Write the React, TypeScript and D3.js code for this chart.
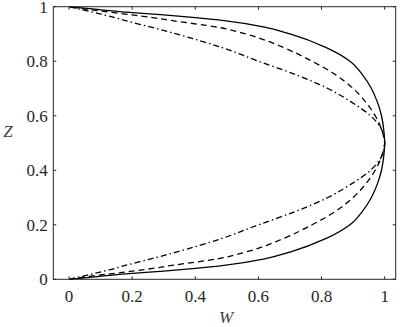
import React from "react";
import * as d3 from "d3";

// Z positions (shared by all three profiles)
const zValues = [0, 0.01, 0.02, 0.03, 0.04, 0.05, 0.075, 0.1, 0.15, 0.2, 0.25, 0.3, 0.35, 0.4, 0.45, 0.5,
  0.55, 0.6, 0.65, 0.7, 0.75, 0.8, 0.85, 0.9, 0.925, 0.95, 0.96, 0.97, 0.98, 0.99, 1];

// W for each line style
const wSolid = [0, 0.09, 0.18, 0.3, 0.4, 0.485, 0.62, 0.7, 0.815, 0.89, 0.93, 0.958, 0.977, 0.99, 0.997, 1,
  0.997, 0.99, 0.977, 0.958, 0.93, 0.89, 0.815, 0.7, 0.62, 0.485, 0.4, 0.3, 0.18, 0.09, 0];
const wDashed = [0, 0.06, 0.13, 0.2, 0.265, 0.32, 0.47, 0.56, 0.68, 0.77, 0.845, 0.9, 0.94, 0.97, 0.99, 1,
  0.99, 0.97, 0.94, 0.9, 0.845, 0.77, 0.68, 0.56, 0.47, 0.32, 0.265, 0.2, 0.13, 0.06, 0];
const wDashDot = [0, 0.038, 0.075, 0.11, 0.145, 0.175, 0.26, 0.34, 0.485, 0.6, 0.72, 0.82, 0.895, 0.955, 0.99, 1,
  0.99, 0.955, 0.895, 0.82, 0.72, 0.6, 0.485, 0.34, 0.26, 0.175, 0.145, 0.11, 0.075, 0.038, 0];

const xTicks = [0, 0.2, 0.4, 0.6, 0.8, 1];
const yTicks = [0, 0.2, 0.4, 0.6, 0.8, 1];

const series = [
  { w: wSolid, dash: undefined },
  { w: wDashed, dash: "6,4" },
  { w: wDashDot, dash: "6,3,1.5,3" },
];

const INK = "#262626";

const left = 53.3, right = 395.7, top = 6.7, bottom = 279.3;
const x = d3.scaleLinear().domain([-0.05, 1.035]).range([left, right]);
const y = d3.scaleLinear().domain([0, 1]).range([bottom, top]);
const fmt = d3.format("");

const line = d3.line<number>()
  .x((d) => x(d))
  .y((d, i) => y(zValues[i]))
  .curve(d3.curveMonotoneY);

const textStyle = { fontFamily: "'Liberation Serif', 'Times New Roman', serif", fontSize: "17px" };

const App = () => (
  <svg width={400} height={327} style={{ position: "absolute", left: 0, top: 0, background: "#fff" }}>
    {series.map((s, i) => (
      <path key={i} d={line(s.w) || ""} fill="none" stroke="#000" strokeWidth={1.3} strokeDasharray={s.dash} />
    ))}
    <rect x={left} y={top} width={right - left} height={bottom - top} fill="none" stroke={INK} strokeWidth={1} />
    {xTicks.map((t) => (
      <g key={"x" + t}>
        <line x1={x(t)} x2={x(t)} y1={bottom} y2={bottom - 3} stroke={INK} />
        <line x1={x(t)} x2={x(t)} y1={top} y2={top + 3} stroke={INK} />
        <text x={x(t)} y={301.7} textAnchor="middle" style={textStyle} fill={INK}>{fmt(t)}</text>
      </g>
    ))}
    {yTicks.map((t) => (
      <g key={"y" + t}>
        <line x1={left} x2={left + 3} y1={y(t)} y2={y(t)} stroke={INK} />
        <line x1={right} x2={right - 3} y1={y(t)} y2={y(t)} stroke={INK} />
        <text x={47.7} y={y(t) + 5.8} textAnchor="end" style={textStyle} fill={INK}>{fmt(t)}</text>
      </g>
    ))}
    <text x={226} y={323} textAnchor="middle" style={{ ...textStyle, fontStyle: "italic" }} fill="#404040">W</text>
    <text x={8} y={137} textAnchor="middle" style={{ ...textStyle, fontStyle: "italic" }} fill="#404040">Z</text>
  </svg>
);

export default App;
